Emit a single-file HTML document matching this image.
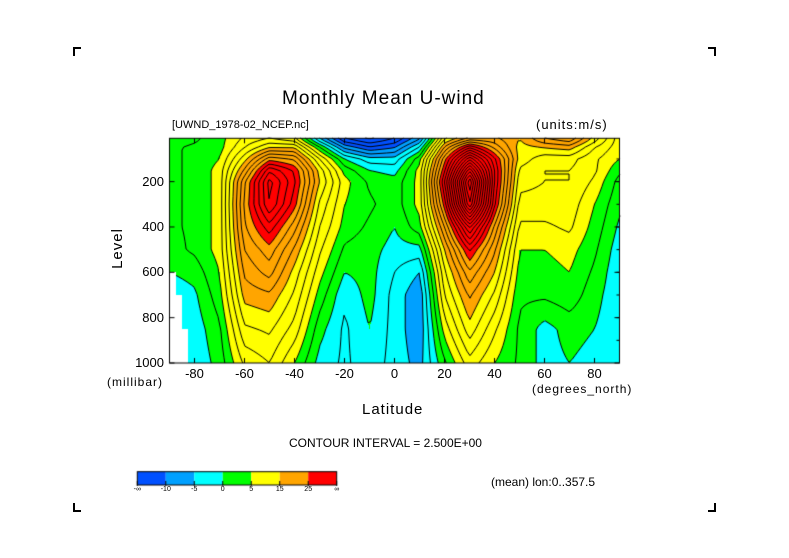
<!DOCTYPE html>
<html><head><meta charset="utf-8">
<style>
body{margin:0;background:#fff;width:789px;height:558px;overflow:hidden;position:relative;font-family:"Liberation Sans",sans-serif;}
.t{position:absolute;white-space:nowrap;color:#000;}
.c{position:absolute;border-color:#000;border-style:solid;width:6px;height:7px;}
</style></head><body>
<div class="c" style="left:73px;top:47px;border-width:2px 0 0 2px"></div>
<div class="c" style="left:708px;top:47px;border-width:2px 2px 0 0"></div>
<div class="c" style="left:73px;top:503px;border-width:0 0 2px 2px"></div>
<div class="c" style="left:708px;top:503px;border-width:0 2px 2px 0"></div>
<div class="t" style="left:282px;top:88px;font-size:19px;letter-spacing:1px">Monthly Mean U-wind</div>
<div class="t" style="left:172px;top:119px;font-size:11px">[UWND_1978-02_NCEP.nc]</div>
<div class="t" style="left:536px;top:117px;font-size:13px;letter-spacing:1px">(units:m/s)</div>
<div class="t" style="left:97px;top:240px;font-size:15px;transform:rotate(-90deg);letter-spacing:1px">Level</div>
<div class="t" style="left:107px;top:375px;font-size:12px;letter-spacing:1px">(millibar)</div>
<div class="t" style="left:532px;top:382px;font-size:12px;letter-spacing:1px">(degrees_north)</div>
<div class="t" style="left:362px;top:401px;font-size:15px;letter-spacing:1px">Latitude</div>
<div class="t" style="left:289px;top:436px;font-size:12px">CONTOUR INTERVAL = 2.500E+00</div>
<div class="t" style="left:491px;top:475px;font-size:12px">(mean) lon:0..357.5</div>
<canvas id="cv" width="789" height="558" style="position:absolute;left:0;top:0"></canvas>
<div id="lbl"></div>
<script>
const lats=[-90,-80,-70,-60,-50,-40,-30,-20,-10,0,10,20,30,40,50,60,70,80,90];
const levels=[10,50,100,150,200,300,400,500,600,700,850,1000];
const u10=[1,2,4,8,10,8,-5,-15,-18,-15,-8,12,18,18,15,20,22,14,6];
const u50=[2,3,4,10,15,15,3,-8,-12,-10,-2,18,30,22,14,15,16,10,6];
const u100=[2,3,5,14,24,22,10,0,-4,-4,4,24,42,28,14,11,11,8,5];
const u150=[2,3,6,18,32,27,14,4,0,-1,6,27,52,30,12,10,10,8,3];
const u200=[2,3,6,22,36,28,15,6,2,1,6,30,60,30,11,10,10,7,1.5];
const u300=[2,3,6,23,35,26,12,5,3,1,6,26,55,28,9,9,9,5,0.5];
const u400=[2,3,6,22,29,21,10,4,2,0,4,20,38,22,7,7,8,4,-0.5];
const u500=[1.5,3,6,20,24,17,8,2,1,-1,-1,15,28,18,5,5,6,3,-1.5];
const u600=[0,1,5,18,21,14,6,0,1,-2.5,-5,12,22,15,4,4,5,2,-2];
const u700=[-2,-0.5,4,16,17,12,4,-2,1,-3.5,-7,10,18,12,3,3,4,1,-2];
const u850=[-3,-1.5,2,12,13,9,1,-3,0,-3.5,-7,6,14,8,2,-1,1,0,-2];
const u1000=[-3,-2,1,8,10,5,-1,-3,-1,-3.5,-6,2,9,5,2,-1,0,-1,-2];
const rows=[u10,u50,u100,u150,u200,u300,u400,u500,u600,u700,u850,u1000];
const missingLevels=[600,700,850];
const missingLatLimits=[-87.5,-85,-82.5];
const binEdges=[-10,-5,0,5,15,25];
const binColors=["#0050ff","#00a0ff","#00ffff","#00ff00","#ffff00","#ffa500","#ff0000"];
const binLabels=["-∞","-10","-5","0","5","15","25","∞"];
const xTicks=[-80,-60,-40,-20,0,20,40,60,80];
const yTicks=[200,400,600,800,1000];

const X0=169.5,X1=619.5,Y0=138.3,Y1=363;
const xs=la=>X0+(la+90)/180*(X1-X0);
const ys=p=>Y1-(1000-p)*0.2267;
const latOf=x=>(x-X0)/(X1-X0)*180-90;
const pOf=y=>1000-(Y1-y)/0.2267;
function field(la,p){
  let i=Math.min(Math.max(Math.floor((la+90)/10),0),lats.length-2);
  let tx=(la-lats[i])/10;tx=Math.max(0,Math.min(1,tx));
  let j=0;while(j<levels.length-2&&p>levels[j+1])j++;
  let ty=(p-levels[j])/(levels[j+1]-levels[j]);ty=Math.max(0,Math.min(1,ty));
  const a=rows[j][i],b=rows[j][i+1],c=rows[j+1][i],d=rows[j+1][i+1];
  return (a*(1-tx)+b*tx)*(1-ty)+(c*(1-tx)+d*tx)*ty;
}
function missing(la,p){let lim=-999;missingLevels.forEach((l,k)=>{if(p>=l)lim=missingLatLimits[k];});return la<lim;}
function col(v){let k=0;while(k<binEdges.length&&v>=binEdges[k])k++;return binColors[k];}
const cv=document.getElementById('cv');const g=cv.getContext('2d');
const xa=Math.round(X0),xb=Math.round(X1),ya=Math.round(Y0),yb=Math.round(Y1);
for(let y=ya;y<yb;y++)for(let x=xa;x<xb;x++){const la=latOf(x+0.5),p=pOf(y+0.5);g.fillStyle=missing(la,p)?"#fff":col(field(la,p));g.fillRect(x,y,1,1);}
const S=3;const nx=Math.ceil((xb-xa)/S)+1,ny=Math.ceil((yb-ya)/S)+1;
const F=[];for(let j=0;j<ny;j++){F[j]=[];for(let i=0;i<nx;i++){F[j][i]=field(latOf(Math.min(xa+i*S,xb)),pOf(Math.min(ya+j*S,yb)));}}
g.lineWidth=1;g.strokeStyle="#000";
for(let lv=-25;lv<=60;lv+=2.5){
  g.setLineDash(lv<0?[4,3]:[]);g.beginPath();
  for(let j=0;j<ny-1;j++)for(let i=0;i<nx-1;i++){
    const v=[F[j][i],F[j][i+1],F[j+1][i+1],F[j+1][i]];
    const P=[[i,j],[i+1,j],[i+1,j+1],[i,j+1]];const pts=[];
    for(let e=0;e<4;e++){const a=v[e],b=v[(e+1)%4];
      if((a<lv)!==(b<lv)){const t=(lv-a)/(b-a);const p1=P[e],p2=P[(e+1)%4];
        pts.push([xa+(p1[0]+(p2[0]-p1[0])*t)*S,ya+(p1[1]+(p2[1]-p1[1])*t)*S]);}}
    for(let k=0;k+1<pts.length;k+=2){
      const mx=(pts[k][0]+pts[k+1][0])/2,my=(pts[k][1]+pts[k+1][1])/2;
      if(missing(latOf(mx),pOf(my)))continue;
      g.moveTo(pts[k][0],pts[k][1]);g.lineTo(pts[k+1][0],pts[k+1][1]);}
  }
  g.stroke();
}
g.setLineDash([]);
g.strokeRect(X0,Y0,X1-X0,Y1-Y0);
g.beginPath();
xTicks.forEach(t=>{const x=xs(t);g.moveTo(x,Y1);g.lineTo(x,Y1-5);g.moveTo(x,Y0);g.lineTo(x,Y0+5);});
yTicks.forEach(t=>{const y=ys(t);g.moveTo(X0,y);g.lineTo(X0+5,y);g.moveTo(X1,y);g.lineTo(X1-5,y);});
for(let p=100;p<1000;p+=100){const y=ys(p);g.moveTo(X1,y);g.lineTo(X1-3,y);}
g.stroke();
const CB0=137.3,CB1=336.7,CBy=471.7,CBh=13.3,bw=(CB1-CB0)/binColors.length;
binColors.forEach((c,k)=>{g.fillStyle=c;g.fillRect(CB0+k*bw,CBy,bw,CBh);});
g.strokeRect(CB0,CBy,CB1-CB0,CBh);
g.beginPath();binLabels.forEach((l,k)=>{const x=CB0+k*bw;g.moveTo(x,CBy+CBh-4);g.lineTo(x,CBy+CBh+1);});g.stroke();
const L=document.getElementById('lbl');
function addT(txt,x,y,fs,name,align){const d=document.createElement('div');d.className='t';d.textContent=txt;d.style.fontSize=fs+'px';d.style.top=y+'px';
  d.style.left=x+'px';d.style.transform=align==='c'?'translateX(-50%)':(align==='r'?'translateX(-100%)':'none');
  
  
  L.appendChild(d);}
xTicks.forEach(t=>addT(String(t),xs(t),366,13,'x-tick-label','c'));
yTicks.forEach(t=>addT(String(t),164,ys(t)-8,13,'y-tick-label','r'));
binLabels.forEach((l,k)=>addT(l,CB0+k*bw,486,7,'colorbar-label','c'));
</script>
</body></html>
